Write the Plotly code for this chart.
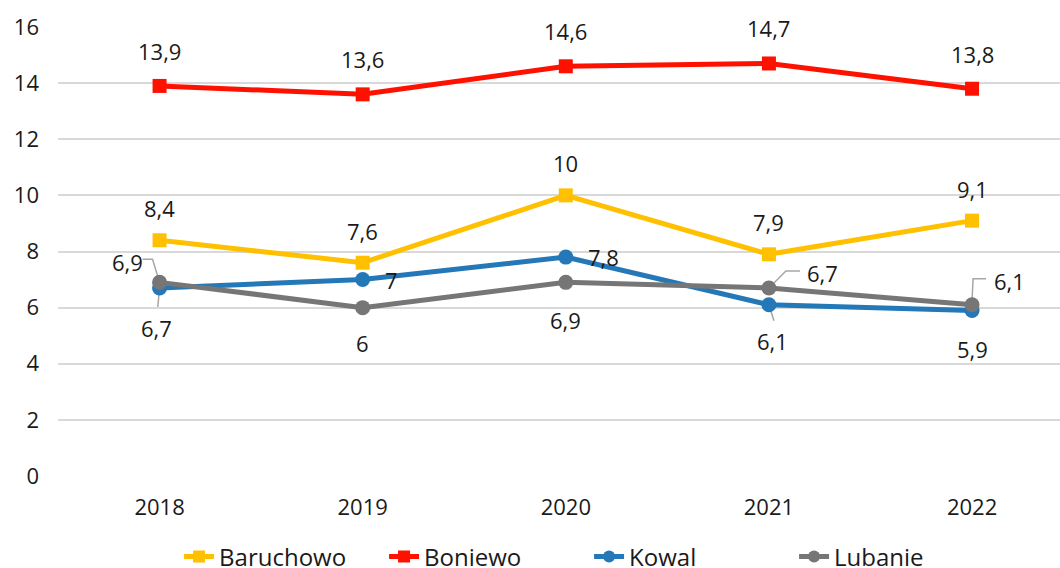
import plotly.graph_objects as go

years = ["2018", "2019", "2020", "2021", "2022"]
baruchowo = [8.4, 7.6, 10, 7.9, 9.1]
boniewo = [13.9, 13.6, 14.6, 14.7, 13.8]
kowal = [6.7, 7, 7.8, 6.1, 5.9]
lubanie = [6.9, 6, 6.9, 6.7, 6.1]
y_ticks = [0, 2, 4, 6, 8, 10, 12, 14, 16]

FONT = "Open Sans"
TEXT = "#1a1a1a"
LEADER = "#A6A6A6"

series = [
    ("Baruchowo", baruchowo, "#FFC000", "square"),
    ("Boniewo", boniewo, "#FF1100", "square"),
    ("Kowal", kowal, "#2478B8", "circle"),
    ("Lubanie", lubanie, "#767676", "circle"),
]

fig = go.Figure()
for name, vals, color, sym in series:
    fig.add_trace(go.Scatter(
        x=years, y=vals, name=name, mode="lines+markers",
        line=dict(color=color, width=5),
        marker=dict(color=color, symbol=sym, size=14 if sym == "square" else 15),
        cliponaxis=False,
    ))


def fmt(v):
    return f"{v:g}".replace(".", ",")


# label offsets per series, in pixels from the point (dy positive = up),
# plus an optional elbow leader path (pixel offsets from the point)
placements = {
    "Baruchowo": [(0, 32, None)] * 5,
    "Boniewo": [(0, 35, None)] * 5,
    "Kowal": [
        (-3, -40, [(0, 0), (-2, -21)]),
        (29, 0, None),
        (38, 0, None),
        (4, -36, [(0, 0), (5, -16)]),
        (0, -39, None),
    ],
    "Lubanie": [
        (-32, 20, [(0, 0), (-7, 23), (-17, 23)]),
        (0, -35, None),
        (0, -38, None),
        (54, 15, [(0, 0), (17, 17), (31, 17)]),
        (37, 24, [(0, 4), (1, 26), (14, 26)]),
    ],
}

annotations = []
shapes = []
for name, vals, color, sym in series:
    for i, v in enumerate(vals):
        dx, dy, leader = placements[name][i]
        # category axis: annotation x is the category index
        annotations.append(dict(
            x=i, y=v, xref="x", yref="y", text=fmt(v), showarrow=False,
            xshift=dx, yshift=dy,
            font=dict(family=FONT, size=22, color=TEXT),
        ))
        if leader:
            path = "M" + " L".join(f"{px},{py}" for px, py in leader)
            shapes.append(dict(
                type="path", xref="x", yref="y",
                xsizemode="pixel", ysizemode="pixel",
                xanchor=i, yanchor=v, path=path,
                line=dict(color=LEADER, width=1.5), layer="below",
            ))

fig.update_layout(
    width=1060, height=568,
    margin=dict(l=58, r=0, t=27, b=92, autoexpand=False),
    paper_bgcolor="white", plot_bgcolor="white",
    font=dict(family=FONT, size=22, color=TEXT),
    showlegend=True,
    legend=dict(orientation="h", x=0.53, xanchor="center", y=-0.18, yanchor="middle",
                font=dict(family=FONT, size=24, color=TEXT),
                entrywidth=160, entrywidthmode="pixels",
                tracegroupgap=0, itemsizing="constant"),
    annotations=annotations,
    shapes=shapes,
    xaxis=dict(type="category", range=[-0.5, 4.433], showgrid=False,
               showline=False, zeroline=False, ticks="", automargin=False,
               tickfont=dict(family=FONT, size=22, color=TEXT),
               ticklabelstandoff=16),
    yaxis=dict(range=[0, 16], tickvals=y_ticks, showgrid=True,
               gridcolor="#D9D9D9", gridwidth=1.5, zeroline=False,
               showline=False, ticks="", automargin=False,
               tickfont=dict(family=FONT, size=22, color=TEXT),
               ticklabelstandoff=18),
)

fig.write_html("out.html")
